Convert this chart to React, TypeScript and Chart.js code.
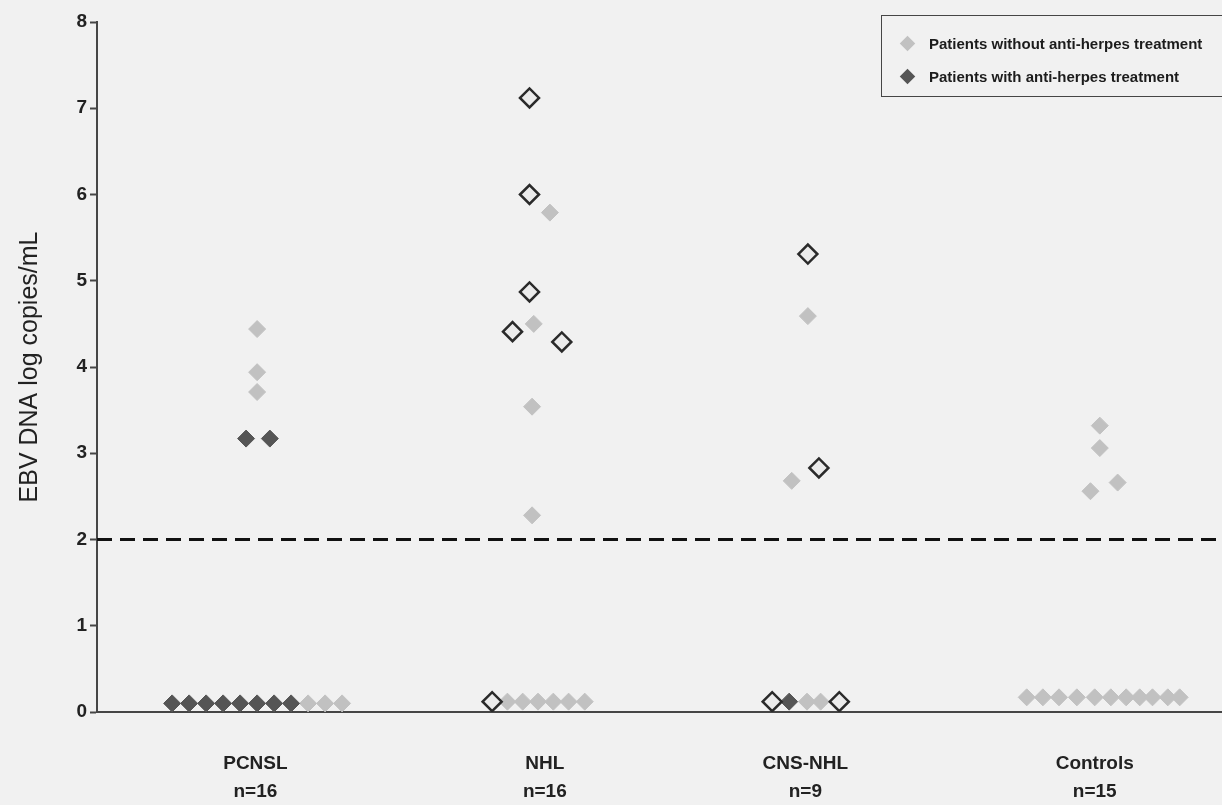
import React, { useEffect, useRef } from "react";
import { Chart, registerables } from "chart.js";

Chart.register(...registerables);

// ---------- data ----------
const CATEGORIES = ["PCNSL", "NHL", "CNS-NHL", "Controls"];
const GROUP_COUNTS = [16, 16, 9, 15];
const Y_TICKS = [0, 1, 2, 3, 4, 5, 6, 7, 8];
const THRESHOLD = 2;
const Y_TITLE = "EBV DNA log copies/mL";
const SERIES_NAMES = [
  "Patients without anti-herpes treatment",
  "Patients with anti-herpes treatment",
];

// [group index, column slot within the group, log copies/mL]
type Pt = [number, number, number];

const WITHOUT_TREATMENT: Pt[] = [
  [0, 0, 4.44], [0, 0, 3.94], [0, 0, 3.71],
  [0, 3, 0.1], [0, 4, 0.1], [0, 5, 0.1],
  [1, 0.7, 5.79], [1, -0.25, 4.5], [1, -0.35, 3.54], [1, -0.35, 2.28],
  [1, -1.8, 0.12], [1, -0.9, 0.12], [1, 0, 0.12], [1, 0.9, 0.12], [1, 1.8, 0.12], [1, 2.75, 0.12],
  [2, -0.65, 4.59], [2, -1.6, 2.68], [2, -0.7, 0.12], [2, 0.1, 0.12],
  [3, 0, 3.32], [3, 0, 3.06], [3, 1.05, 2.66], [3, -0.55, 2.56],
  [3, -4.3, 0.17], [3, -3.35, 0.17], [3, -2.4, 0.17], [3, -1.35, 0.17], [3, -0.3, 0.17],
  [3, 0.65, 0.17], [3, 1.55, 0.17], [3, 2.35, 0.17], [3, 3.1, 0.17], [3, 4.0, 0.17], [3, 4.7, 0.17],
];

const WITH_TREATMENT: Pt[] = [
  [0, -0.65, 3.17], [0, 0.75, 3.17],
  [0, -5, 0.1], [0, -4, 0.1], [0, -3, 0.1], [0, -2, 0.1],
  [0, -1, 0.1], [0, 0, 0.1], [0, 1, 0.1], [0, 2, 0.1],
  [2, -1.75, 0.12],
];

const OPEN_MARKERS: Pt[] = [
  [1, -0.5, 7.12], [1, -0.5, 6.0], [1, -0.5, 4.87], [1, -1.5, 4.41], [1, 1.4, 4.29], [1, -2.7, 0.12],
  [2, -0.65, 5.31], [2, 0, 2.83], [2, -2.75, 0.12], [2, 1.2, 0.12],
];

// ---------- layout ----------
const W = 1222;
const H = 805;
const CANVAS_W = 1234; // extra width is clipped so the plot runs to the right edge
const SLOT_STEP = 0.0605;
const LABEL_SLOT = [-0.1, 0.4, -0.8, -0.3]; // small nudges of the category labels
const X_MIN = 0.43;
const X_MAX = 4.435;
const FONT = "'Liberation Sans', Arial, Helvetica, sans-serif";
const LIGHT = "#c1c1c1";
const DARK = "#555555";
const AXIS = "#464646";
const BG = "#f1f1f1";

const toXY = (pts: Pt[]) =>
  pts.map(([g, s, v]) => ({ x: g + 1 + s * SLOT_STEP, y: v }));

function Diamond({ color }: { color: string }) {
  return (
    <span
      style={{
        display: "inline-block",
        width: 11,
        height: 11,
        background: color,
        transform: "rotate(45deg)",
        marginRight: 16,
        flex: "0 0 auto",
      }}
    />
  );
}

export default function App() {
  const ref = useRef<HTMLCanvasElement | null>(null);

  useEffect(() => {
    if (!ref.current) return;
    const chart = new Chart(ref.current, {
      type: "scatter",
      data: {
        datasets: [
          {
            label: "threshold",
            data: [
              { x: X_MIN, y: THRESHOLD },
              { x: X_MAX, y: THRESHOLD },
            ],
            showLine: true,
            borderColor: "#111111",
            borderWidth: 3,
            borderDash: [15, 8],
            pointRadius: 0,
            order: 4,
          } as any,
          {
            label: SERIES_NAMES[0],
            data: toXY(WITHOUT_TREATMENT),
            pointStyle: "rectRot",
            pointRadius: 8.5,
            backgroundColor: LIGHT,
            borderColor: LIGHT,
            borderWidth: 1,
            order: 3,
          },
          {
            label: SERIES_NAMES[1],
            data: toXY(WITH_TREATMENT),
            pointStyle: "rectRot",
            pointRadius: 8.5,
            backgroundColor: DARK,
            borderColor: DARK,
            borderWidth: 1,
            order: 2,
          },
          {
            label: "open",
            data: toXY(OPEN_MARKERS),
            pointStyle: "rectRot",
            pointRadius: 9.5,
            backgroundColor: "#ebebeb",
            borderColor: "#2a2a2a",
            borderWidth: 2.5,
            order: 1,
          },
        ],
      },
      options: {
        responsive: false,
        animation: false,
        devicePixelRatio: 1,
        events: [],
        layout: { padding: { top: 22, left: 0, right: 0, bottom: 0 } },
        plugins: {
          legend: { display: false },
          tooltip: { enabled: false },
        },
        scales: {
          x: {
            type: "linear",
            min: X_MIN,
            max: X_MAX,
            afterBuildTicks: (s: any) => {
              s.ticks = CATEGORIES.map((_, i) => ({
                value: i + 1 + LABEL_SLOT[i] * SLOT_STEP,
              }));
            },
            afterFit: (s: any) => {
              s.height = 93;
            },
            ticks: {
              autoSkip: false,
              maxRotation: 0,
              padding: 38,
              color: "#222222",
              font: { family: FONT, size: 19, weight: "bold", lineHeight: 1.45 },
              callback: (v: any) => {
                const i = Math.round(Number(v)) - 1;
                return [CATEGORIES[i], `n=${GROUP_COUNTS[i]}`];
              },
            },
            grid: { display: false, drawTicks: false },
            border: { display: true, color: AXIS, width: 2 },
          },
          y: {
            type: "linear",
            min: 0,
            max: 8,
            afterBuildTicks: (s: any) => {
              s.ticks = Y_TICKS.map((v) => ({ value: v }));
            },
            afterFit: (s: any) => {
              s.width = 97;
            },
            ticks: {
              padding: 3,
              color: "#222222",
              font: { family: FONT, size: 19, weight: "bold" },
            },
            grid: {
              display: true,
              drawOnChartArea: false,
              drawTicks: true,
              tickLength: 7,
              tickColor: AXIS,
              tickWidth: 2,
              color: AXIS,
            },
            border: { display: true, color: AXIS, width: 2 },
            title: {
              display: true,
              text: Y_TITLE,
              color: "#222222",
              font: { family: FONT, size: 25 },
              padding: { top: 15, bottom: 0 },
            },
          },
        },
      } as any,
    });
    return () => chart.destroy();
  }, []);

  return (
    <div
      style={{
        position: "absolute",
        left: 0,
        top: 0,
        width: W,
        height: H,
        overflow: "hidden",
        background: BG,
      }}
    >
      <canvas ref={ref} width={CANVAS_W} height={H} style={{ display: "block" }} />
      <div
        style={{
          position: "absolute",
          left: 881,
          top: 15,
          width: 360,
          height: 82,
          border: `1.5px solid ${AXIS}`,
          boxSizing: "border-box",
          fontFamily: FONT,
          fontWeight: "bold",
          fontSize: 15,
          color: "#1c1c1c",
        }}
      >
        {SERIES_NAMES.map((name, i) => (
          <div
            key={name}
            style={{
              position: "absolute",
              left: 20,
              top: i === 0 ? 16 : 49,
              height: 22,
              display: "flex",
              alignItems: "center",
              whiteSpace: "nowrap",
            }}
          >
            <Diamond color={i === 0 ? LIGHT : DARK} />
            <span>{name}</span>
          </div>
        ))}
      </div>
    </div>
  );
}
